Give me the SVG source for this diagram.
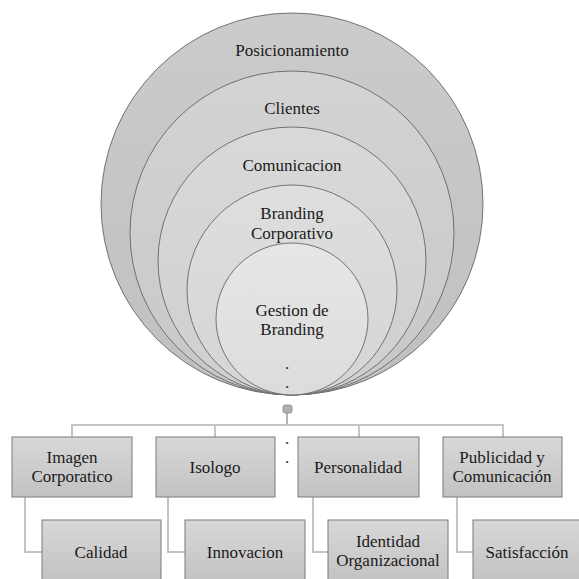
<svg xmlns="http://www.w3.org/2000/svg" width="579" height="579" viewBox="0 0 579 579">
<defs>
<linearGradient id="gb" x1="0" y1="0" x2="0" y2="1">
<stop offset="0" stop-color="#d8d8d8"/>
<stop offset="1" stop-color="#c2c2c2"/>
</linearGradient>
<linearGradient id="g1" x1="0" y1="0" x2="0" y2="1"><stop offset="0" stop-color="#cbcbcb"/><stop offset="1" stop-color="#c0c0c0"/></linearGradient>
<linearGradient id="g2" x1="0" y1="0" x2="0" y2="1"><stop offset="0" stop-color="#d3d3d3"/><stop offset="1" stop-color="#c8c8c8"/></linearGradient>
<linearGradient id="g3" x1="0" y1="0" x2="0" y2="1"><stop offset="0" stop-color="#d9d9d9"/><stop offset="1" stop-color="#cfcfcf"/></linearGradient>
<linearGradient id="g4" x1="0" y1="0" x2="0" y2="1"><stop offset="0" stop-color="#dedede"/><stop offset="1" stop-color="#d5d5d5"/></linearGradient>
<linearGradient id="g5" x1="0" y1="0" x2="0" y2="1"><stop offset="0" stop-color="#e6e6e6"/><stop offset="1" stop-color="#dcdcdc"/></linearGradient>
</defs>
<style>
text{font-family:"Liberation Serif","DejaVu Serif","Noto Serif",Tinos,"Nimbus Roman",FreeSerif,Times,serif;font-size:17px;fill:#1a1a1a;text-anchor:middle}
.c{stroke:#666666;stroke-width:0.9}
.b{fill:url(#gb);stroke:#7a7a7a;stroke-width:1}
.ln{fill:none;stroke:#c4c4c4;stroke-width:2}
.lk{fill:none;stroke:#9a9a9a;stroke-width:1.5}
.d{fill:#333333}
</style>
<g id="posicionamiento"><circle class="c" cx="292" cy="204" r="191" fill="url(#g1)"/><text x="292" y="56">Posicionamiento</text></g>
<g id="clientes"><circle class="c" cx="292" cy="233" r="162" fill="url(#g2)"/><text x="292" y="114">Clientes</text></g>
<g id="comunicacion"><circle class="c" cx="292" cy="261" r="134" fill="url(#g3)"/><text x="292" y="171">Comunicacion</text></g>
<g id="branding-corporativo"><circle class="c" cx="292" cy="290" r="105" fill="url(#g4)"/><text x="292" y="219">Branding</text><text x="292" y="239">Corporativo</text></g>
<g id="gestion-branding"><circle class="c" cx="292" cy="319" r="76" fill="url(#g5)"/><text x="292" y="316">Gestion de</text><text x="292" y="335">Branding</text><text class="d" x="287" y="369">.</text><text class="d" x="287" y="388">.</text></g>
<g id="connectors">
<rect x="283" y="405" width="9" height="8" rx="2" fill="#b0b0b0" stroke="#8a8a8a" stroke-width="0.8"/>
<line class="lk" x1="287" y1="413" x2="287" y2="425"/>
<path class="ln" d="M72 437V425H503V437M215 425V437M359 425V437"/>
<path class="ln" d="M25 497V552H42M168 497V552H185M313 497V552H328M457 497V552H473"/>
<text class="d" x="287" y="444">.</text><text class="d" x="287" y="463">.</text>
</g>
<g id="imagen"><rect class="b" x="12" y="437" width="120" height="60"/><text x="72" y="463">Imagen</text><text x="72" y="482">Corporatico</text></g>
<g id="isologo"><rect class="b" x="156" y="437" width="119" height="60"/><text x="215" y="473">Isologo</text></g>
<g id="personalidad"><rect class="b" x="298" y="437" width="121" height="60"/><text x="358" y="473">Personalidad</text></g>
<g id="publicidad"><rect class="b" x="443" y="437" width="119" height="60"/><text x="502" y="463">Publicidad y</text><text x="502" y="482">Comunicación</text></g>
<g id="calidad"><rect class="b" x="42" y="520" width="119" height="62"/><text x="101" y="558">Calidad</text></g>
<g id="innovacion"><rect class="b" x="185" y="520" width="120" height="62"/><text x="245" y="558">Innovacion</text></g>
<g id="identidad"><rect class="b" x="328" y="520" width="120" height="62"/><text x="388" y="547">Identidad</text><text x="388" y="566">Organizacional</text></g>
<g id="satisfaccion"><rect class="b" x="473" y="520" width="120" height="62"/><text x="527" y="558">Satisfacción</text></g>
</svg>
